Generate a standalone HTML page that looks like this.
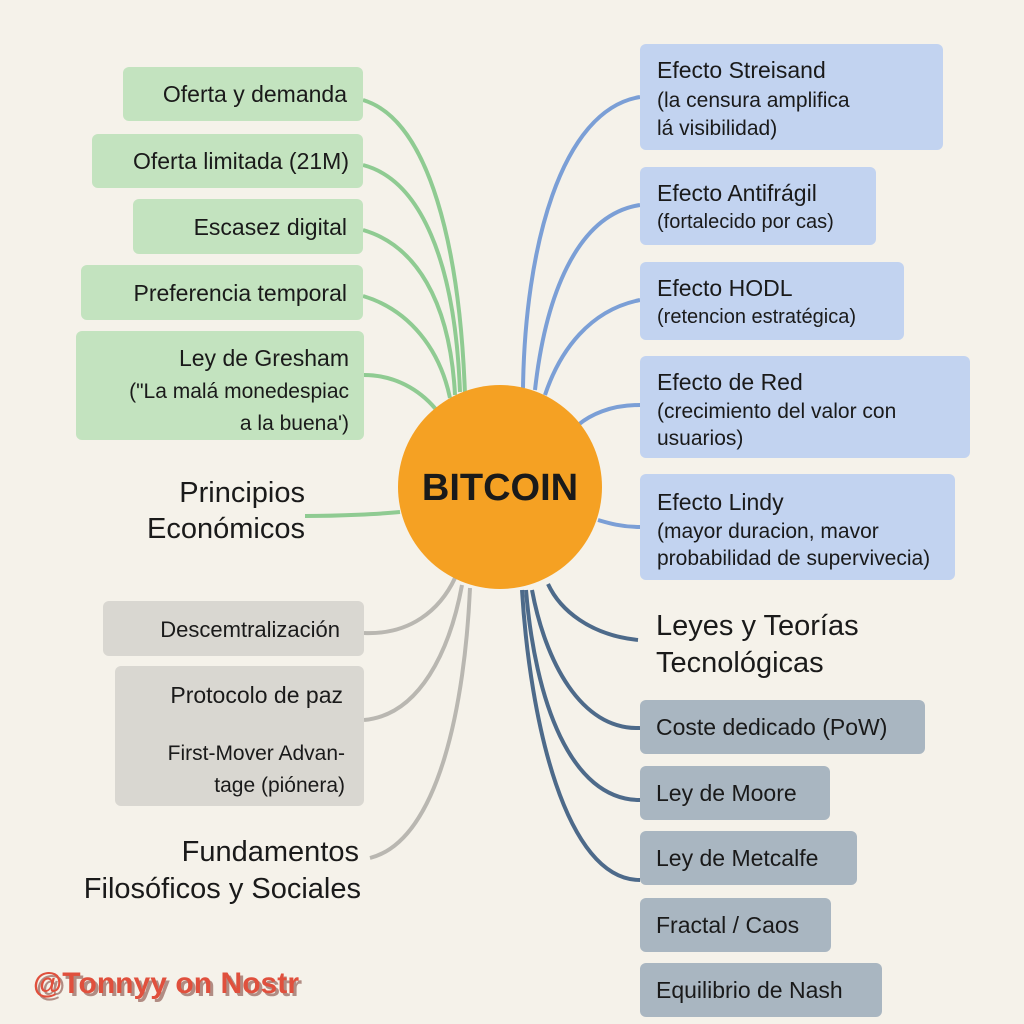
<!DOCTYPE html>
<html><head><meta charset="utf-8"><style>
html,body{margin:0;padding:0;background:#f5f2ea;}
svg{display:block}
text{font-family:"Liberation Sans",sans-serif;fill:#1a1a1a}
text.wm{fill:#e0503d}
text.wms{fill:#7a3a30;opacity:0.55}
</style></head><body>
<svg width="1024" height="1024" viewBox="0 0 1024 1024" xmlns="http://www.w3.org/2000/svg">
<rect width="1024" height="1024" fill="#f5f2ea"/>
<g fill="none" stroke="#8fcb92" stroke-width="4">
<path d="M363 100 C430 120 460 250 465 395"/>
<path d="M363 165 C420 180 455 260 460 392"/>
<path d="M363 230 C415 245 450 300 455 395"/>
<path d="M363 296 C410 310 440 350 450 398"/>
<path d="M364 375 C400 375 425 395 438 412"/>
<path d="M305 516 C340 516 380 514 400 512"/>
</g>
<g fill="none" stroke="#b9b7b1" stroke-width="4">
<path d="M364 633 C410 635 440 610 455 578"/>
<path d="M364 720 C420 715 450 650 462 585"/>
<path d="M370 858 C440 840 465 700 470 588"/>
</g>
<g fill="none" stroke="#7b9fd6" stroke-width="4">
<path d="M640 97 C560 110 525 250 523 388"/>
<path d="M640 205 C575 215 545 300 535 390"/>
<path d="M640 300 C590 310 560 350 545 395"/>
<path d="M640 405 C610 405 590 415 578 425"/>
<path d="M640 527 C620 527 605 522 598 520"/>
</g>
<g fill="none" stroke="#4d6a8a" stroke-width="4">
<path d="M638 640 C590 635 560 610 548 584"/>
<path d="M640 728 C580 730 545 660 532 590"/>
<path d="M640 800 C570 800 535 700 526 590"/>
<path d="M640 880 C565 880 530 720 522 590"/>
</g>
<circle cx="500" cy="487" r="102" fill="#f5a123"/>
<text x="500" y="500" font-size="38" font-weight="bold" text-anchor="middle">BITCOIN</text>
<g fill="#c3e3bf">
<rect x="123" y="67" width="240" height="54" rx="6"/>
<rect x="92" y="134" width="271" height="54" rx="6"/>
<rect x="133" y="199" width="230" height="55" rx="6"/>
<rect x="81" y="265" width="282" height="55" rx="6"/>
<rect x="76" y="331" width="288" height="109" rx="6"/>
</g>
<g font-size="23" text-anchor="end">
<text x="347" y="102">Oferta y demanda</text>
<text x="349" y="169">Oferta limitada (21M)</text>
<text x="347" y="235">Escasez digital</text>
<text x="347" y="301">Preferencia temporal</text>
<text x="349" y="366">Ley de Gresham</text>
<text x="349" y="398" font-size="21">("La malá monedespiac</text>
<text x="349" y="430" font-size="21">a la buena')</text>
</g>
<g font-size="29" text-anchor="end">
<text x="305" y="502">Principios</text>
<text x="305" y="538">Económicos</text>
</g>
<g fill="#d9d7d1">
<rect x="103" y="601" width="261" height="55" rx="6"/>
<rect x="115" y="666" width="249" height="140" rx="6"/>
</g>
<g font-size="22" text-anchor="end">
<text x="340" y="637">Descemtralización</text>
<text x="343" y="703" font-size="23">Protocolo de paz</text>
<text x="345" y="760" font-size="21">First-Mover Advan-</text>
<text x="345" y="792" font-size="21">tage (piónera)</text>
</g>
<g font-size="29" text-anchor="end">
<text x="359" y="861">Fundamentos</text>
<text x="361" y="898">Filosóficos y Sociales</text>
</g>
<g fill="#c2d3f0">
<rect x="640" y="44" width="303" height="106" rx="6"/>
<rect x="640" y="167" width="236" height="78" rx="6"/>
<rect x="640" y="262" width="264" height="78" rx="6"/>
<rect x="640" y="356" width="330" height="102" rx="6"/>
<rect x="640" y="474" width="315" height="106" rx="6"/>
</g>
<g font-size="23">
<text x="657" y="78">Efecto Streisand</text>
<text x="657" y="107" font-size="21">(la censura amplifica</text>
<text x="657" y="135" font-size="21">lá visibilidad)</text>
<text x="657" y="201">Efecto Antifrágil</text>
<text x="657" y="228" font-size="20">(fortalecido por cas)</text>
<text x="657" y="296">Efecto HODL</text>
<text x="657" y="323" font-size="20">(retencion estratégica)</text>
<text x="657" y="390">Efecto de Red</text>
<text x="657" y="418" font-size="21">(crecimiento del valor con</text>
<text x="657" y="445" font-size="21">usuarios)</text>
<text x="657" y="510">Efecto Lindy</text>
<text x="657" y="538" font-size="21">(mayor duracion, mavor</text>
<text x="657" y="565" font-size="21">probabilidad de supervivecia)</text>
</g>
<g font-size="29">
<text x="656" y="635">Leyes y Teorías</text>
<text x="656" y="672">Tecnológicas</text>
</g>
<g fill="#a9b6c1">
<rect x="640" y="700" width="285" height="54" rx="6"/>
<rect x="640" y="766" width="190" height="54" rx="6"/>
<rect x="640" y="831" width="217" height="54" rx="6"/>
<rect x="640" y="898" width="191" height="54" rx="6"/>
<rect x="640" y="963" width="242" height="54" rx="6"/>
</g>
<g font-size="23">
<text x="656" y="735">Coste dedicado (PoW)</text>
<text x="656" y="801">Ley de Moore</text>
<text x="656" y="866">Ley de Metcalfe</text>
<text x="656" y="933">Fractal / Caos</text>
<text x="656" y="998">Equilibrio de Nash</text>
</g>
<text class="wms" x="36" y="996" font-size="30" font-weight="bold" textLength="266">@Tonnyy on Nostr</text>
<text class="wm" x="33" y="993" font-size="30" font-weight="bold" textLength="266">@Tonnyy on Nostr</text>
</svg>
</body></html>
